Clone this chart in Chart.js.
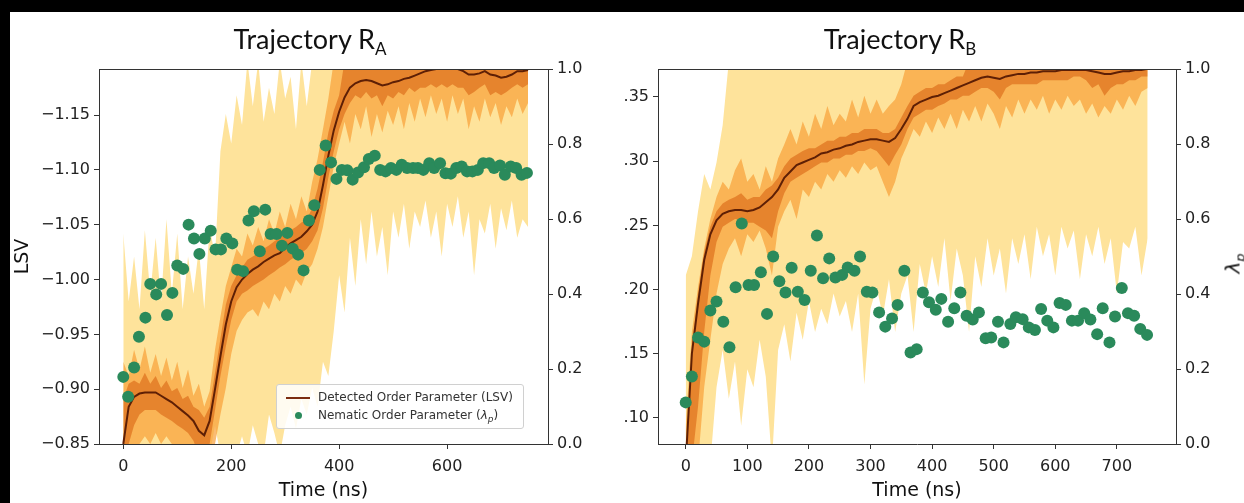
<!DOCTYPE html>
<html>
<head>
<meta charset="utf-8">
<script src="https://cdn.jsdelivr.net/npm/chart.js@4.4.1/dist/chart.umd.min.js"></script>
<style>
  body { margin: 0; width: 1244px; height: 503px; overflow: hidden; background: #fff; position: relative; font-family: 'DejaVu Sans', sans-serif; }
  .bar-top { position: absolute; left: 0; top: 0; width: 1244px; height: 12px; background: #000; }
  .bar-left { position: absolute; left: 0; top: 0; width: 10px; height: 503px; background: #000; }
  canvas { position: absolute; top: 12px; }
  #chartA { left: 10px; }
  #chartB { left: 610px; }
  .title { position: absolute; top: 22px; width: 300px; text-align: center; font-family: Lato, sans-serif; font-size: 27px; color: #111; }
  .title sub { font-size: 17px; vertical-align: -6px; }
  .legend { position: absolute; left: 276px; top: 384px; width: 246px; height: 43px; background: rgba(255,255,255,0.85); border: 1px solid #d0d0d0; border-radius: 3px; font-size: 12px; color: #333; }
  .legend .row { position: absolute; left: 0; height: 16px; line-height: 16px; white-space: nowrap; }
  .legend .txt { position: absolute; left: 41px; }
  .legend .swline { position: absolute; left: 9px; top: 8px; width: 24px; height: 2px; background: #7c2d10; }
  .legend .swdot { position: absolute; left: 18px; top: 5px; width: 7px; height: 7px; border-radius: 50%; background: #2a8a5b; }
  .ylab { position: absolute; left: 1209px; top: 250px; width: 50px; text-align: center; font-size: 20px; transform: rotate(-90deg); color: #111; }
</style>
</head>
<body>
<div class="bar-top"></div>
<div class="bar-left"></div>
<canvas id="chartA" width="600" height="491"></canvas>
<canvas id="chartB" width="634" height="491"></canvas>
<div class="title" style="left:160px">Trajectory R<sub>A</sub></div>
<div class="title" style="left:750px">Trajectory R<sub>B</sub></div>
<div class="legend">
  <div class="row" style="top:4px"><span class="swline"></span><span class="txt">Detected Order Parameter (LSV)</span></div>
  <div class="row" style="top:22px"><span class="swdot"></span><span class="txt">Nematic Order Parameter (<i>λ</i><sub style="font-size:9px"><i>p</i></sub>)</span></div>
</div>
<div class="ylab"><i>λ</i><sub style="font-size:13px"><i>p</i></sub></div>

<script>
// time grid of the trajectories (ns)
const times = [0, 10, 20, 30, 40, 50, 60, 70, 80, 90,
  100, 110, 120, 130, 140, 150, 160, 170, 180, 190,
  200, 210, 220, 230, 240, 250, 260, 270, 280, 290,
  300, 310, 320, 330, 340, 350, 360, 370, 380, 390,
  400, 410, 420, 430, 440, 450, 460, 470, 480, 490,
  500, 510, 520, 530, 540, 550, 560, 570, 580, 590,
  600, 610, 620, 630, 640, 650, 660, 670, 680, 690,
  700, 710, 720, 730, 740, 750];

// tick labels
const timeTicksA = [0, 200, 400, 600];
const timeTicksB = [0, 100, 200, 300, 400, 500, 600, 700];
const lsvTicksA = [-1.15, -1.10, -1.05, -1.00, -0.95, -0.90, -0.85];
const lsvTicksB = [0.10, 0.15, 0.20, 0.25, 0.30, 0.35];
const lambdaTicks = [0, 0.2, 0.4, 0.6, 0.8, 1.0];

// ---- Trajectory R_A ----
const lsvA = [-0.850, -0.884, -0.893, -0.896, -0.897, -0.897, -0.897, -0.894, -0.891, -0.888,
  -0.884, -0.880, -0.876, -0.871, -0.862, -0.858, -0.871, -0.900, -0.930, -0.959,
  -0.980, -0.993, -1.000, -1.005, -1.009, -1.012, -1.016, -1.019, -1.022, -1.024,
  -1.029, -1.033, -1.036, -1.039, -1.044, -1.050, -1.062, -1.086, -1.113, -1.136,
  -1.153, -1.166, -1.175, -1.179, -1.181, -1.182, -1.181, -1.179, -1.177, -1.178,
  -1.180, -1.181, -1.183, -1.184, -1.186, -1.188, -1.190, -1.191, -1.192, -1.192,
  -1.192, -1.192, -1.192, -1.190, -1.187, -1.187, -1.188, -1.190, -1.187, -1.186,
  -1.184, -1.185, -1.187, -1.190, -1.190, -1.191];

const yellowHiA = [-1.042, -0.980, -1.021, -0.973, -1.045, -0.987, -1.038, -0.980, -1.055, -0.987,
  -1.042, -0.973, -1.021, -0.987, -1.028, -0.973, -1.048, -1.021, -1.117, -1.151,
  -1.124, -1.168, -1.141, -1.199, -1.158, -1.199, -1.144, -1.175, -1.151, -1.199,
  -1.165, -1.185, -1.137, -1.199, -1.158, -1.199, -1.199, -1.199, -1.199, -1.199,
  -1.199, -1.199, -1.199, -1.199, -1.199, -1.199, -1.199, -1.199, -1.199, -1.199,
  -1.199, -1.199, -1.199, -1.199, -1.199, -1.199, -1.199, -1.199, -1.199, -1.199,
  -1.199, -1.199, -1.199, -1.199, -1.199, -1.199, -1.199, -1.199, -1.199, -1.199,
  -1.199, -1.199, -1.199, -1.199, -1.199, -1.199];
const yellowLoA = [-0.840, -0.840, -0.840, -0.840, -0.840, -0.840, -0.840, -0.840, -0.840, -0.840,
  -0.840, -0.840, -0.840, -0.840, -0.840, -0.840, -0.840, -0.867, -0.840, -0.840,
  -0.850, -0.840, -0.857, -0.840, -0.867, -0.850, -0.840, -0.877, -0.860, -0.840,
  -0.867, -0.884, -0.864, -0.891, -0.877, -0.901, -0.884, -0.925, -0.912, -0.953,
  -1.004, -0.970, -1.038, -0.994, -1.055, -1.014, -1.062, -1.021, -1.048, -1.004,
  -1.062, -1.038, -1.069, -1.028, -1.062, -1.048, -1.072, -1.038, -1.062, -1.021,
  -1.069, -1.048, -1.076, -1.038, -1.062, -1.004, -1.055, -1.042, -1.069, -1.028,
  -1.065, -1.045, -1.072, -1.038, -1.055, -1.048];
const orangeHiA = [-0.925, -0.912, -0.936, -0.918, -0.939, -0.915, -0.932, -0.912, -0.929, -0.908,
  -0.925, -0.901, -0.918, -0.894, -0.905, -0.884, -0.898, -0.936, -0.966, -0.994,
  -1.011, -1.028, -1.021, -1.042, -1.031, -1.048, -1.035, -1.055, -1.042, -1.062,
  -1.048, -1.069, -1.055, -1.076, -1.062, -1.089, -1.110, -1.137, -1.165, -1.199,
  -1.199, -1.199, -1.199, -1.199, -1.199, -1.199, -1.199, -1.199, -1.199, -1.199,
  -1.199, -1.199, -1.199, -1.199, -1.199, -1.199, -1.199, -1.199, -1.199, -1.199,
  -1.199, -1.199, -1.199, -1.199, -1.199, -1.199, -1.199, -1.199, -1.199, -1.199,
  -1.199, -1.199, -1.199, -1.199, -1.199, -1.199];
const orangeLoA = [-0.840, -0.840, -0.840, -0.850, -0.857, -0.850, -0.860, -0.850, -0.857, -0.850,
  -0.850, -0.840, -0.840, -0.840, -0.840, -0.840, -0.840, -0.850, -0.877, -0.901,
  -0.932, -0.953, -0.963, -0.970, -0.973, -0.966, -0.980, -0.973, -0.987, -0.980,
  -0.994, -0.987, -1.000, -0.994, -1.007, -1.014, -1.028, -1.048, -1.076, -1.103,
  -1.124, -1.144, -1.124, -1.151, -1.137, -1.158, -1.130, -1.151, -1.134, -1.154,
  -1.141, -1.158, -1.137, -1.161, -1.144, -1.165, -1.148, -1.168, -1.151, -1.165,
  -1.144, -1.168, -1.151, -1.165, -1.137, -1.158, -1.144, -1.165, -1.148, -1.161,
  -1.141, -1.158, -1.148, -1.165, -1.151, -1.161];
const darkHiA = [-0.891, -0.905, -0.908, -0.905, -0.915, -0.905, -0.912, -0.901, -0.908, -0.898,
  -0.901, -0.891, -0.894, -0.884, -0.881, -0.874, -0.884, -0.915, -0.946, -0.977,
  -0.994, -1.004, -1.011, -1.018, -1.021, -1.024, -1.028, -1.031, -1.035, -1.038,
  -1.042, -1.045, -1.048, -1.052, -1.055, -1.065, -1.083, -1.107, -1.134, -1.154,
  -1.168, -1.199, -1.199, -1.199, -1.199, -1.199, -1.199, -1.199, -1.199, -1.199,
  -1.199, -1.199, -1.199, -1.199, -1.199, -1.199, -1.199, -1.199, -1.199, -1.199,
  -1.199, -1.199, -1.199, -1.199, -1.199, -1.199, -1.199, -1.199, -1.199, -1.199,
  -1.199, -1.199, -1.199, -1.199, -1.199, -1.199];
const darkLoA = [-0.840, -0.850, -0.867, -0.877, -0.881, -0.881, -0.881, -0.877, -0.874, -0.871,
  -0.867, -0.864, -0.860, -0.853, -0.840, -0.840, -0.850, -0.881, -0.912, -0.939,
  -0.963, -0.980, -0.987, -0.990, -0.994, -0.997, -1.000, -1.004, -1.007, -1.011,
  -1.014, -1.018, -1.021, -1.024, -1.028, -1.035, -1.045, -1.065, -1.093, -1.117,
  -1.137, -1.151, -1.161, -1.168, -1.165, -1.171, -1.165, -1.168, -1.158, -1.168,
  -1.165, -1.171, -1.168, -1.175, -1.171, -1.175, -1.175, -1.178, -1.175, -1.178,
  -1.175, -1.178, -1.175, -1.175, -1.168, -1.171, -1.175, -1.178, -1.168, -1.171,
  -1.168, -1.171, -1.175, -1.178, -1.175, -1.178];

const sampleTimesA = [0, 9, 20, 29, 41, 50, 61, 70, 81, 91,
  100, 111, 121, 131, 141, 151, 162, 171, 181, 191,
  202, 211, 222, 232, 242, 253, 263, 273, 284, 294,
  304, 314, 324, 334, 344, 354, 364, 375, 385, 395,
  405, 415, 425, 435, 446, 455, 466, 476, 486, 496,
  506, 516, 526, 537, 546, 556, 567, 576, 587, 597,
  607, 617, 627, 637, 647, 657, 667, 678, 687, 698,
  707, 718, 728, 738, 748];
const lambdaA = [0.179, 0.126, 0.204, 0.286, 0.337, 0.427, 0.399, 0.427, 0.344, 0.403,
  0.476, 0.467, 0.585, 0.548, 0.507, 0.548, 0.569, 0.519, 0.519, 0.548,
  0.535, 0.465, 0.461, 0.596, 0.621, 0.514, 0.625, 0.560, 0.560, 0.529,
  0.563, 0.521, 0.505, 0.463, 0.596, 0.637, 0.731, 0.796, 0.751, 0.707,
  0.731, 0.730, 0.705, 0.724, 0.738, 0.760, 0.769, 0.731, 0.727, 0.736,
  0.731, 0.745, 0.736, 0.736, 0.736, 0.731, 0.749, 0.736, 0.749, 0.722,
  0.721, 0.736, 0.740, 0.727, 0.727, 0.731, 0.749, 0.749, 0.736, 0.743,
  0.718, 0.740, 0.736, 0.718, 0.723];

// ---- Trajectory R_B ----
const lsvB = [0.065, 0.150, 0.189, 0.223, 0.243, 0.254, 0.259, 0.261, 0.262, 0.262,
  0.261, 0.262, 0.264, 0.268, 0.272, 0.278, 0.287, 0.292, 0.297, 0.299,
  0.301, 0.303, 0.306, 0.307, 0.309, 0.310, 0.312, 0.313, 0.315, 0.316,
  0.317, 0.317, 0.316, 0.315, 0.318, 0.325, 0.333, 0.343, 0.346, 0.348,
  0.350, 0.351, 0.353, 0.355, 0.357, 0.359, 0.361, 0.363, 0.365, 0.366,
  0.365, 0.364, 0.366, 0.367, 0.368, 0.368, 0.369, 0.369, 0.370, 0.370,
  0.370, 0.371, 0.371, 0.371, 0.371, 0.371, 0.370, 0.369, 0.368, 0.368,
  0.369, 0.370, 0.370, 0.371, 0.371, 0.372];

const yellowHiB = [0.211, 0.226, 0.261, 0.290, 0.278, 0.299, 0.328, 0.378, 0.378, 0.378,
  0.378, 0.378, 0.378, 0.378, 0.378, 0.378, 0.378, 0.378, 0.378, 0.378,
  0.378, 0.378, 0.378, 0.378, 0.378, 0.378, 0.378, 0.378, 0.378, 0.378,
  0.378, 0.378, 0.378, 0.378, 0.378, 0.378, 0.378, 0.378, 0.378, 0.378,
  0.378, 0.378, 0.378, 0.378, 0.378, 0.378, 0.378, 0.378, 0.378, 0.378,
  0.378, 0.378, 0.378, 0.378, 0.378, 0.378, 0.378, 0.378, 0.378, 0.378,
  0.378, 0.378, 0.378, 0.378, 0.378, 0.378, 0.378, 0.378, 0.378, 0.378,
  0.378, 0.378, 0.378, 0.378, 0.378, 0.378];
const yellowLoB = [0.065, 0.065, 0.065, 0.065, 0.065, 0.124, 0.153, 0.115, 0.144, 0.094,
  0.138, 0.124, 0.161, 0.132, 0.065, 0.153, 0.173, 0.144, 0.182, 0.161,
  0.191, 0.167, 0.185, 0.173, 0.197, 0.179, 0.191, 0.167, 0.197, 0.126,
  0.185, 0.202, 0.179, 0.208, 0.167, 0.197, 0.211, 0.167, 0.220, 0.197,
  0.226, 0.202, 0.240, 0.191, 0.232, 0.211, 0.167, 0.226, 0.202, 0.240,
  0.211, 0.232, 0.197, 0.240, 0.220, 0.243, 0.208, 0.249, 0.226, 0.243,
  0.211, 0.249, 0.232, 0.246, 0.208, 0.243, 0.226, 0.249, 0.220, 0.240,
  0.197, 0.237, 0.232, 0.249, 0.211, 0.240];
const orangeHiB = [0.094, 0.167, 0.202, 0.232, 0.255, 0.272, 0.284, 0.278, 0.293, 0.302,
  0.284, 0.290, 0.278, 0.296, 0.284, 0.302, 0.313, 0.325, 0.313, 0.331,
  0.319, 0.337, 0.325, 0.343, 0.328, 0.337, 0.331, 0.348, 0.334, 0.351,
  0.337, 0.348, 0.337, 0.343, 0.348, 0.360, 0.378, 0.378, 0.378, 0.378,
  0.378, 0.378, 0.378, 0.378, 0.378, 0.378, 0.378, 0.378, 0.378, 0.378,
  0.378, 0.378, 0.378, 0.378, 0.378, 0.378, 0.378, 0.378, 0.378, 0.378,
  0.378, 0.378, 0.378, 0.378, 0.378, 0.378, 0.378, 0.378, 0.378, 0.378,
  0.378, 0.378, 0.378, 0.378, 0.378, 0.378];
const orangeLoB = [0.065, 0.065, 0.065, 0.124, 0.161, 0.197, 0.220, 0.232, 0.240, 0.226,
  0.243, 0.237, 0.246, 0.232, 0.211, 0.249, 0.261, 0.270, 0.255, 0.278,
  0.272, 0.284, 0.278, 0.290, 0.284, 0.293, 0.287, 0.296, 0.290, 0.299,
  0.293, 0.296, 0.284, 0.272, 0.284, 0.302, 0.313, 0.325, 0.319, 0.331,
  0.322, 0.334, 0.325, 0.337, 0.325, 0.340, 0.331, 0.343, 0.331, 0.345,
  0.337, 0.325, 0.343, 0.334, 0.348, 0.337, 0.348, 0.340, 0.351, 0.337,
  0.348, 0.340, 0.351, 0.343, 0.348, 0.337, 0.345, 0.334, 0.343, 0.337,
  0.348, 0.340, 0.351, 0.343, 0.354, 0.357];
const darkHiB = [0.065, 0.156, 0.197, 0.229, 0.249, 0.261, 0.267, 0.270, 0.272, 0.275,
  0.270, 0.272, 0.272, 0.278, 0.281, 0.287, 0.296, 0.302, 0.305, 0.308,
  0.310, 0.310, 0.313, 0.316, 0.316, 0.319, 0.319, 0.322, 0.322, 0.325,
  0.325, 0.325, 0.322, 0.322, 0.325, 0.334, 0.343, 0.351, 0.354, 0.357,
  0.357, 0.360, 0.360, 0.363, 0.366, 0.366, 0.378, 0.378, 0.378, 0.378,
  0.378, 0.378, 0.378, 0.378, 0.378, 0.378, 0.378, 0.378, 0.378, 0.378,
  0.378, 0.378, 0.378, 0.378, 0.378, 0.378, 0.378, 0.378, 0.378, 0.378,
  0.378, 0.378, 0.378, 0.378, 0.378, 0.378];
const darkLoB = [0.065, 0.065, 0.109, 0.167, 0.211, 0.237, 0.249, 0.252, 0.255, 0.255,
  0.252, 0.252, 0.249, 0.246, 0.240, 0.261, 0.275, 0.284, 0.287, 0.290,
  0.293, 0.296, 0.299, 0.299, 0.302, 0.302, 0.305, 0.305, 0.308, 0.308,
  0.310, 0.308, 0.302, 0.296, 0.305, 0.313, 0.325, 0.334, 0.337, 0.340,
  0.340, 0.343, 0.345, 0.348, 0.348, 0.351, 0.351, 0.354, 0.357, 0.357,
  0.354, 0.348, 0.357, 0.360, 0.360, 0.360, 0.360, 0.360, 0.363, 0.363,
  0.363, 0.363, 0.363, 0.366, 0.366, 0.363, 0.357, 0.360, 0.351, 0.357,
  0.360, 0.360, 0.363, 0.363, 0.366, 0.366];

const sampleTimesB = [0, 10, 20, 30, 40, 50, 61, 71, 81, 91,
  102, 111, 122, 132, 142, 152, 162, 172, 182, 193,
  203, 213, 223, 233, 243, 254, 263, 274, 283, 294,
  303, 314, 324, 335, 344, 355, 365, 375, 385, 395,
  406, 415, 426, 436, 446, 456, 466, 476, 487, 496,
  507, 516, 527, 536, 547, 557, 567, 577, 587, 597,
  607, 617, 627, 637, 647, 657, 668, 677, 688, 697,
  708, 718, 728, 738, 749];
const lambdaB = [0.111, 0.180, 0.284, 0.273, 0.356, 0.380, 0.326, 0.258, 0.418, 0.588,
  0.424, 0.424, 0.458, 0.347, 0.500, 0.434, 0.404, 0.470, 0.406, 0.384,
  0.462, 0.556, 0.442, 0.495, 0.444, 0.451, 0.471, 0.462, 0.500, 0.406,
  0.404, 0.351, 0.313, 0.335, 0.371, 0.462, 0.244, 0.253, 0.404, 0.378,
  0.358, 0.387, 0.326, 0.362, 0.404, 0.342, 0.332, 0.351, 0.282, 0.284,
  0.326, 0.271, 0.320, 0.338, 0.333, 0.311, 0.304, 0.360, 0.329, 0.311,
  0.376, 0.371, 0.329, 0.329, 0.349, 0.332, 0.293, 0.362, 0.271, 0.340,
  0.416, 0.349, 0.342, 0.307, 0.291];

// colours
const yellow = '#fee39b';
const orange = 'rgba(248, 160, 55, 0.7)';
const darkOrange = 'rgba(214, 92, 12, 0.55)';
const brown = '#5e1f05';
const green = '#2a8a5b';
const axisColor = '#333';

Chart.defaults.font.family = "'DejaVu Sans', sans-serif";
Chart.defaults.font.size = 16;
Chart.defaults.color = '#222';

const pts = (xs, ys) => xs.map((x, i) => ({ x: x, y: ys[i] }));

function band(hi, lo, color, order) {
  return [
    { data: pts(times, hi), yAxisID: 'y', fill: '+1', backgroundColor: color, borderWidth: 0, pointRadius: 0, order: order },
    { data: pts(times, lo), yAxisID: 'y', fill: false, borderWidth: 0, pointRadius: 0, order: order + 1 }
  ];
}

// top spine of the frame
const topSpine = {
  id: 'topSpine',
  afterDraw(chart) {
    const a = chart.chartArea, c = chart.ctx;
    c.save();
    c.strokeStyle = axisColor;
    c.lineWidth = 1;
    c.beginPath();
    c.moveTo(a.left, a.top + 0.5);
    c.lineTo(a.right, a.top + 0.5);
    c.stroke();
    c.restore();
  }
};

function axisGrid() {
  return { drawOnChartArea: false, drawTicks: true, tickLength: 5, color: axisColor };
}

function makePanel(id, p) {
  const datasets = [
    { data: pts(p.sampleTimes, p.lambda), yAxisID: 'y1', showLine: false, pointRadius: 6, pointBackgroundColor: green, pointBorderWidth: 0, order: 0 },
    { data: pts(times, p.lsv), yAxisID: 'y', borderColor: brown, borderWidth: 2, pointRadius: 0, fill: false, order: 1 },
    ...band(p.darkHi, p.darkLo, darkOrange, 2),
    ...band(p.orangeHi, p.orangeLo, orange, 4),
    ...band(p.yellowHi, p.yellowLo, yellow, 6)
  ];
  return new Chart(document.getElementById(id), {
    type: 'line',
    data: { datasets: datasets },
    options: {
      responsive: false,
      animation: false,
      devicePixelRatio: 1,
      layout: { padding: { top: 57, left: 0, right: 0, bottom: 0 } },
      plugins: { legend: { display: false }, tooltip: { enabled: false } },
      scales: {
        x: {
          type: 'linear', min: p.xMin, max: p.xMax,
          afterBuildTicks: s => { s.ticks = p.xTicks.map(v => ({ value: v })); },
          afterFit: s => { s.height = 59; },
          ticks: { padding: 8, autoSkip: false, maxRotation: 0, callback: v => String(v) },
          grid: axisGrid(),
          border: { display: true, color: axisColor },
          title: { display: true, text: 'Time (ns)', font: { size: 19 }, color: '#111', padding: { top: 0, bottom: 1 } }
        },
        y: {
          position: 'left', min: p.yMin, max: p.yMax, reverse: p.reverse,
          afterBuildTicks: s => { s.ticks = p.yTicks.map(v => ({ value: v })); },
          afterFit: s => { s.width = p.leftWidth; },
          ticks: { padding: 4, autoSkip: false, callback: p.yFormat },
          grid: axisGrid(),
          border: { display: true, color: axisColor },
          title: { display: p.yTitle !== '', text: p.yTitle, font: { size: 19 }, color: '#111', padding: { top: 2, bottom: 0 } }
        },
        y1: {
          position: 'right', min: 0, max: 1,
          afterBuildTicks: s => { s.ticks = lambdaTicks.map(v => ({ value: v })); },
          afterFit: s => { s.width = p.rightWidth; },
          ticks: { padding: 4, autoSkip: false, callback: v => v.toFixed(1) },
          grid: axisGrid(),
          border: { display: true, color: axisColor }
        }
      }
    },
    plugins: [topSpine]
  });
}

makePanel('chartA', {
  lsv: lsvA, yellowHi: yellowHiA, yellowLo: yellowLoA, orangeHi: orangeHiA, orangeLo: orangeLoA,
  darkHi: darkHiA, darkLo: darkLoA, sampleTimes: sampleTimesA, lambda: lambdaA,
  xMin: -45, xMax: 787, xTicks: timeTicksA,
  yMin: -1.192, yMax: -0.85, reverse: true, yTicks: lsvTicksA,
  yFormat: v => v.toFixed(2).replace('-', '\u2212'),
  yTitle: 'LSV', leftWidth: 89, rightWidth: 62
});

makePanel('chartB', {
  lsv: lsvB, yellowHi: yellowHiB, yellowLo: yellowLoB, orangeHi: orangeHiB, orangeLo: orangeLoB,
  darkHi: darkHiB, darkLo: darkLoB, sampleTimes: sampleTimesB, lambda: lambdaB,
  xMin: -45, xMax: 796, xTicks: timeTicksB,
  yMin: 0.0797, yMax: 0.3718, reverse: false, yTicks: lsvTicksB,
  yFormat: v => v.toFixed(2).slice(1),
  yTitle: '', leftWidth: 48, rightWidth: 68
});
</script>
</body>
</html>
